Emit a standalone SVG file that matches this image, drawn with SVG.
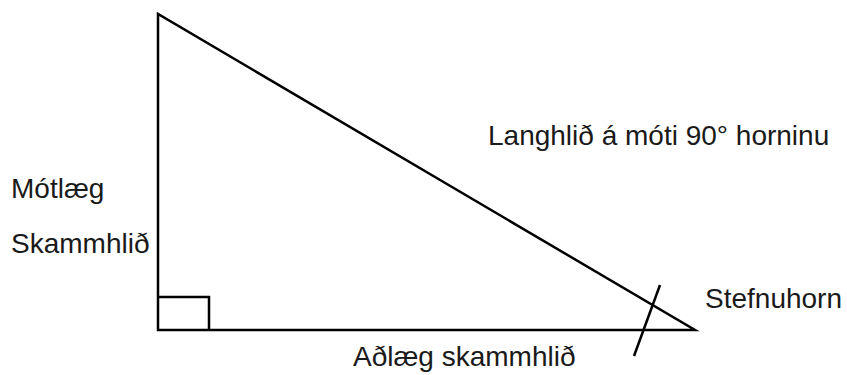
<svg xmlns="http://www.w3.org/2000/svg" width="847" height="375" viewBox="0 0 847 375">
<style>
.ln{fill:none;stroke:#000;stroke-width:2.5;stroke-linejoin:miter}
.t{font-family:"Liberation Sans",Arial,sans-serif;font-size:28px;fill:#1a1a1a}
</style>
<rect width="847" height="375" fill="#fff"/>
<g id="triangle">
<polygon class="ln" points="158,14 158,330 695,330"/>
<polyline class="ln" points="158,297 209,297 209,330"/>
</g>
<g id="connectors">
<line class="ln" x1="660" y1="285" x2="634" y2="356"/>
</g>
<g id="labels">
<text class="t" x="488" y="145">Langhlið á móti 90° horninu</text>
<text class="t" x="11" y="198">Mótlæg</text>
<text class="t" x="11" y="253">Skammhlið</text>
<text class="t" x="705" y="308">Stefnuhorn</text>
<text class="t" x="353" y="366">Aðlæg skammhlið</text>
</g>
</svg>
